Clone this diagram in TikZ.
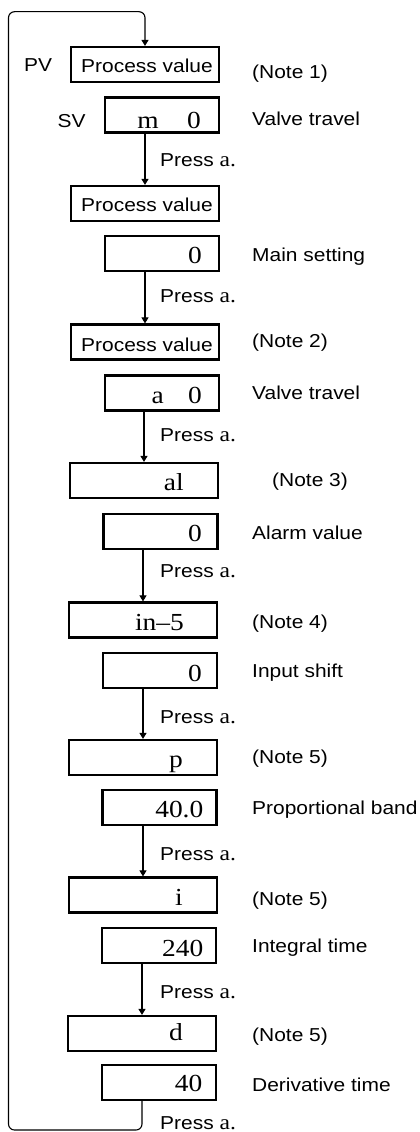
\documentclass[tikz,border=0pt]{standalone}
\usepackage{fontspec}
\newfontfamily\lsans[FakeStretch=1.12]{Liberation Sans}
\newfontfamily\lserif[FakeStretch=1.12]{Liberation Serif}
\usetikzlibrary{arrows.meta}
\newcommand{\pressa}{Press {\lserif\fontsize{21}{22}\selectfont a.}}
\tikzset{
  wbox/.style={draw, line width=2.2pt, minimum width=148pt, minimum height=35pt, inner sep=0pt},
  nbox/.style={wbox, minimum width=114pt},
  lab/.style={font=\lsans\fontsize{18.7}{20}\selectfont, inner sep=0pt, anchor=base west},
  ptext/.style={font=\lsans\fontsize{18.7}{20}\selectfont, inner sep=0pt, anchor=base},
  val/.style={font=\lserif\fontsize{24.5}{26}\selectfont, inner sep=0pt, anchor=base east},
  conn/.style={line width=1.1pt, -{Triangle[width=7pt,length=6pt]}},
}
\begin{document}
\begin{tikzpicture}[x=1pt,y=-1pt]
\useasboundingbox (0,0) rectangle (420,1132);
% boxes
\node[wbox] (b1) at (145,64.5) {};
\node[nbox] (b2) at (162,115) {};
\node[wbox] (b3) at (145,203.5) {};
\node[nbox] (b4) at (162,253.5) {};
\node[wbox] (b5) at (145,342) {};
\node[nbox] (b6) at (162,393) {};
\node[wbox] (b7) at (144,480.5) {};
\node[nbox] (b8) at (160.5,531.5) {};
\node[wbox] (b9) at (143,620) {};
\node[nbox] (b10) at (160,670.5) {};
\node[wbox] (b11) at (143,757.5) {};
\node[nbox] (b12) at (159.5,807.5) {};
\node[wbox] (b13) at (143,895) {};
\node[nbox] (b14) at (159,945.5) {};
\node[wbox] (b15) at (142,1033.5) {};
\node[nbox] (b16) at (159,1082.5) {};
% box contents
\node[ptext] (t1) at (147,72.7) {Process value};
\node[val] (t2a) at (159,128) {m};
\node[val] (t2) at (201,128) {0};
\node[ptext] (t3) at (147,211) {Process value};
\node[val] (t4) at (202,263.3) {0};
\node[ptext] (t5) at (147,351.7) {Process value};
\node[val] (t6a) at (164,403.3) {a};
\node[val] (t6) at (202,403.3) {0};
\node[val] (t7) at (184,490) {al};
\node[val] (t8) at (202,541.7) {0};
\node[val] (t9) at (184,630.7) {in\textendash 5};
\node[val] (t10) at (202,681.7) {0};
\node[val] (t11) at (183,767.7) {p};
\node[val] (t12) at (203.5,817.3) {40.0};
\node[val] (t13) at (183,905) {i};
\node[val] (t14) at (203.5,956) {240};
\node[val] (t15) at (183,1040) {d};
\node[val] (t16) at (202.5,1091) {40};
% side labels
\node[lab] (pv) at (24,71.7) {PV};
\node[lab] (sv) at (57.5,127.7) {SV};
\node[lab] (n1) at (252,78) {(Note 1)};
\node[lab] (d2) at (252,125) {Valve travel};
\node[lab] (d4) at (252,261.7) {Main setting};
\node[lab] (n2) at (252,347.7) {(Note 2)};
\node[lab] (d6) at (252,399.3) {Valve travel};
\node[lab] (n3) at (272,486.7) {(Note 3)};
\node[lab] (d8) at (252,539.3) {Alarm value};
\node[lab] (n4) at (252,628.3) {(Note 4)};
\node[lab] (d10) at (252,677.7) {Input shift};
\node[lab] (n5a) at (252,763.3) {(Note 5)};
\node[lab] (d12) at (252,814.3) {Proportional band};
\node[lab] (n5b) at (252,905) {(Note 5)};
\node[lab] (d14) at (252,952.3) {Integral time};
\node[lab] (n5c) at (252,1041) {(Note 5)};
\node[lab] (d16) at (252,1091.7) {Derivative time};
% press labels
\node[lab] (p1) at (160,166.7) {\pressa};
\node[lab] (p2) at (160,302.7) {\pressa};
\node[lab] (p3) at (160,441.7) {\pressa};
\node[lab] (p4) at (160,577.3) {\pressa};
\node[lab] (p5) at (160,723.3) {\pressa};
\node[lab] (p6) at (160,860) {\pressa};
\node[lab] (p7) at (160,998.3) {\pressa};
\node[lab] (p8) at (160,1129.3) {\pressa};
% connectors
\draw[conn] (b3.north |- b2.south) -- (b3.north);
\draw[conn] (b5.north |- b4.south) -- (b5.north);
\draw[conn] (b7.north |- b6.south) -- (b7.north);
\draw[conn] (b9.north |- b8.south) -- (b9.north);
\draw[conn] (b11.north |- b10.south) -- (b11.north);
\draw[conn] (b13.north |- b12.south) -- (b13.north);
\draw[conn] (b15.north |- b14.south) -- (b15.north);
\coordinate (lb) at (8.5,1130);
\coordinate (lt) at (8.5,11.7);
\draw[conn, rounded corners=6pt] (b15.south |- b16.south) -- (b15.south |- lb) -- (lb) -- (lt) -| (b1.north);
\end{tikzpicture}
\end{document}
